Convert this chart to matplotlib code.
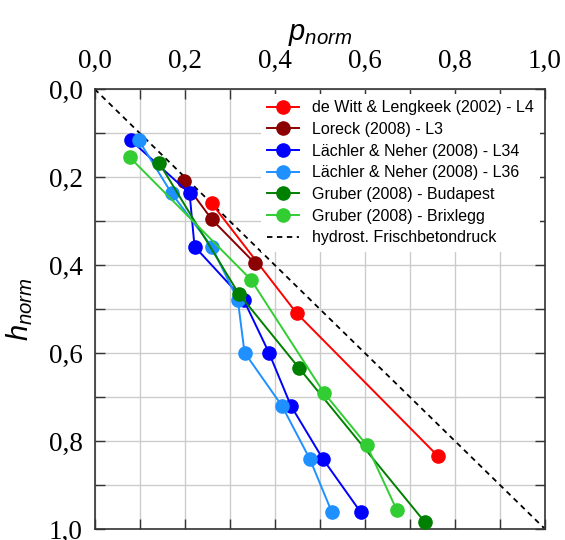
import matplotlib
matplotlib.use("Agg")
import matplotlib.pyplot as plt
import numpy as np

# normalised pressure p_norm vs. normalised height h_norm per test series
h_witt = [0.260, 0.510, 0.834]
p_witt = [0.260, 0.449, 0.762]

h_loreck = [0.210, 0.296, 0.396]
p_loreck = [0.198, 0.260, 0.356]

h_laechler = [0.116, 0.237, 0.358, 0.479, 0.599, 0.720, 0.841, 0.962]
p_l34 = [0.080, 0.211, 0.222, 0.331, 0.387, 0.436, 0.507, 0.591]
p_l36 = [0.098, 0.171, 0.260, 0.318, 0.333, 0.416, 0.478, 0.527]

h_budapest = [0.169, 0.465, 0.633, 0.984]
p_budapest = [0.144, 0.320, 0.453, 0.733]

h_brixlegg = [0.155, 0.433, 0.690, 0.809, 0.957]
p_brixlegg = [0.078, 0.347, 0.509, 0.604, 0.671]

hydro = [0.0, 1.0]

series = [
    (p_witt, h_witt, "#ff0000", "de Witt & Lengkeek (2002) - L4"),
    (p_loreck, h_loreck, "#8b0000", "Loreck (2008) - L3"),
    (p_l34, h_laechler, "#0000ff", "Lächler & Neher (2008) - L34"),
    (p_l36, h_laechler, "#1e90ff", "Lächler & Neher (2008) - L36"),
    (p_budapest, h_budapest, "#008000", "Gruber (2008) - Budapest"),
    (p_brixlegg, h_brixlegg, "#32cd32", "Gruber (2008) - Brixlegg"),
]

plt.rcParams["mathtext.fontset"] = "custom"
plt.rcParams["mathtext.it"] = "Liberation Sans:italic"
plt.rcParams["mathtext.rm"] = "Liberation Sans"

fig = plt.figure(figsize=(5.65, 5.4), dpi=100)
ax = fig.add_axes([0.1673, 0.0204, 0.7973, 0.8148])

for p, h, col, lab in series:
    ax.plot(p, h, "-o", color=col, lw=1.4, ms=9.5, label=lab, zorder=3)
ax.plot(hydro, hydro, "--", color="black", lw=1.3, dashes=(3, 2.5),
        label="hydrost. Frischbetondruck", zorder=2)

ax.set_xlim(0, 1)
ax.set_ylim(1, 0)
ax.xaxis.tick_top()
ax.xaxis.set_label_position("top")

major = np.arange(0, 1.01, 0.2)
minor = np.arange(0, 1.01, 0.1)
ax.set_xticks(major)
ax.set_yticks(major)
ax.set_xticks(minor, minor=True)
ax.set_yticks(minor, minor=True)
fmt = [f"{v:.1f}".replace(".", ",") for v in major]
ax.set_xticklabels(fmt, family="Liberation Serif", fontsize=19.5)
ax.set_yticklabels(fmt, family="Liberation Serif", fontsize=19.5)
ax.tick_params(which="both", direction="in", length=7, width=1,
               top=True, bottom=True, left=True, right=True,
               labelbottom=False, labeltop=True, color="#333333")
ax.tick_params(axis="x", pad=11)
ax.tick_params(axis="y", pad=8.5)

ax.grid(True, which="both", color="#cccccc", lw=1)
ax.set_axisbelow(True)
for s in ax.spines.values():
    s.set_color("#333333")
    s.set_linewidth(1.2)

ax.set_xlabel("$p_{norm}$", fontsize=21, labelpad=6)
ax.set_ylabel("$h_{norm}$", fontsize=21, labelpad=10)

leg = ax.legend(loc="upper right", frameon=True, framealpha=1,
                edgecolor="none", facecolor="white", labelspacing=0.42,
                handlelength=2.0, borderaxespad=0.3, borderpad=0.4,
                handletextpad=0.8, prop={"family": "Liberation Sans", "size": 11.5})
leg.get_frame().set_boxstyle("square", pad=0)

fig.savefig("out.png", dpi=100)
